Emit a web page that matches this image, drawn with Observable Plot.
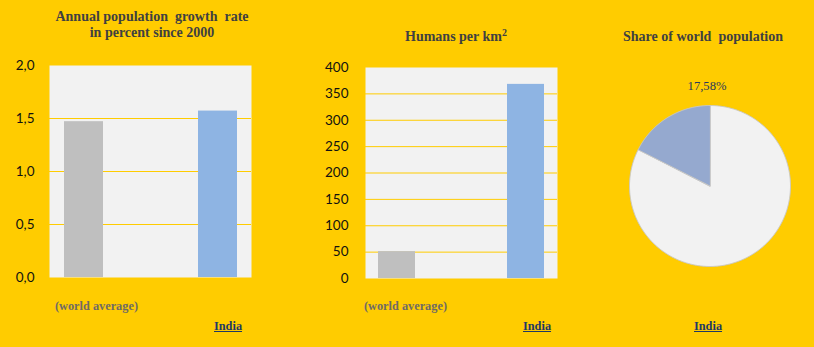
<!DOCTYPE html>
<html><head><meta charset="utf-8">
<script src="https://cdn.jsdelivr.net/npm/d3@7"></script>
<script src="https://cdn.jsdelivr.net/npm/@observablehq/plot@0.6"></script>
<style>
body{margin:0;background:#ffcc00;}
#wrap{position:relative;width:814px;height:347px;background:#ffcc00;overflow:hidden;font-family:"Liberation Serif","Times New Roman",serif;}
.t{position:absolute;font-weight:bold;color:#404040;font-size:14px;text-align:center;white-space:pre;transform:translateX(-50%);line-height:16px;}
.t sup{font-size:10px;line-height:0;vertical-align:5px;}
.wa{position:absolute;font-weight:bold;color:#6f6a66;font-size:12.3px;line-height:14px;white-space:pre;}
.in{position:absolute;font-weight:bold;color:#1f3864;font-size:12.3px;line-height:14px;text-decoration:underline;}
.lbl{position:absolute;color:#2b3a5a;font-size:12.6px;line-height:14px;transform:translateX(-50%);}
.p{position:absolute;}
</style></head><body><div id="wrap"></div>
<script>
// ---- data ----
const categories = ["(world average)", "India"];
const growthRate = [1.47, 1.57];
const density = [51, 368];
const growthTicks = [0, 0.5, 1, 1.5, 2];
const densityTicks = [0, 50, 100, 150, 200, 250, 300, 350, 400];
const shareLabels = ["Rest of world", "India"];
const shareValues = [82.42, 17.58];
const titles = ["Annual population  growth  rate\nin percent since 2000", "Humans per km", "Share of world  population"];

const wrap = document.getElementById("wrap");
function add(cls, html, left, top) {
  const d = document.createElement("div");
  d.className = cls; d.innerHTML = html;
  d.style.left = left + "px"; d.style.top = top + "px";
  wrap.appendChild(d); return d;
}

function barChart(values, ticks, fmt, o) {
  const data = categories.map((c, i) => ({c, v: values[i]}));
  const svg = Plot.plot({
    width: o.width, height: o.height,
    marginLeft: o.ml, marginRight: o.mr, marginTop: o.mt, marginBottom: o.mb,
    style: {background: "transparent", fontFamily: "Lato, sans-serif", fontSize: "13.5px", color: "#111"},
    x: {domain: categories, paddingInner: o.pi, paddingOuter: o.po, axis: null},
    y: {domain: [0, ticks[ticks.length - 1]], ticks, tickFormat: fmt, tickSize: 0, tickPadding: o.tp, label: null},
    color: {domain: categories, range: ["#bfbfbf", "#8eb4e3"]},
    marks: [
      Plot.frame({fill: "#f2f2f2", stroke: null}),
      Plot.ruleY(ticks.slice(1, -1), {stroke: "#ffcc00", strokeWidth: 1}),
      Plot.barY(data, {x: "c", y: "v", fill: "c"})
    ]
  });
  svg.classList.add("p");
  svg.style.left = o.left + "px"; svg.style.top = o.top + "px";
  wrap.appendChild(svg);
}

barChart(growthRate, growthTicks, d => d.toFixed(1).replace(".", ","),
  {left: 0, top: 50, width: 258, height: 240, ml: 49, mr: 7, mt: 15, mb: 13, pi: 0.711, po: 0.104, tp: 15});
barChart(density, densityTicks, d => String(d),
  {left: 300, top: 50, width: 260, height: 240, ml: 65, mr: 3, mt: 17, mb: 12, pi: 0.716, po: 0.101, tp: 17});

// pie
const arcs = d3.pie().sort(null)(shareValues);
const piePts = [];
arcs.forEach((a, i) => {
  piePts.push({s: shareLabels[i], x: 0, y: 0});
  const n = Math.max(2, Math.ceil((a.endAngle - a.startAngle) / 0.01));
  for (let k = 0; k <= n; k++) {
    const t = a.startAngle + (a.endAngle - a.startAngle) * k / n;
    piePts.push({s: shareLabels[i], x: Math.sin(t), y: Math.cos(t)});
  }
});
const pie = Plot.plot({
  width: 165, height: 165, margin: 2,
  style: {background: "transparent"},
  x: {domain: [-1, 1], axis: null},
  y: {domain: [-1, 1], axis: null},
  color: {domain: shareLabels, range: ["#f2f2f2", "#95a9cf"]},
  marks: [
    Plot.line(piePts, {x: "x", y: "y", z: "s", fill: "s", stroke: "#c8c8c8", strokeWidth: 1, curve: "linear-closed"})
  ]
});
pie.classList.add("p");
pie.style.left = "627px"; pie.style.top = "103px";
wrap.appendChild(pie);

// texts
add("t", titles[0], 152, 9);
add("t", titles[1] + "<sup>2</sup>", 456, 29);
add("t", titles[2], 703, 29);
add("wa", categories[0], 55, 299);
add("wa", categories[0], 364, 299);
add("in", categories[1], 214, 319);
add("in", categories[1], 523, 319);
add("in", categories[1], 694, 319);
add("lbl", shareValues[1].toFixed(2).replace(".", ",") + "%", 707, 79);
</script></body></html>
